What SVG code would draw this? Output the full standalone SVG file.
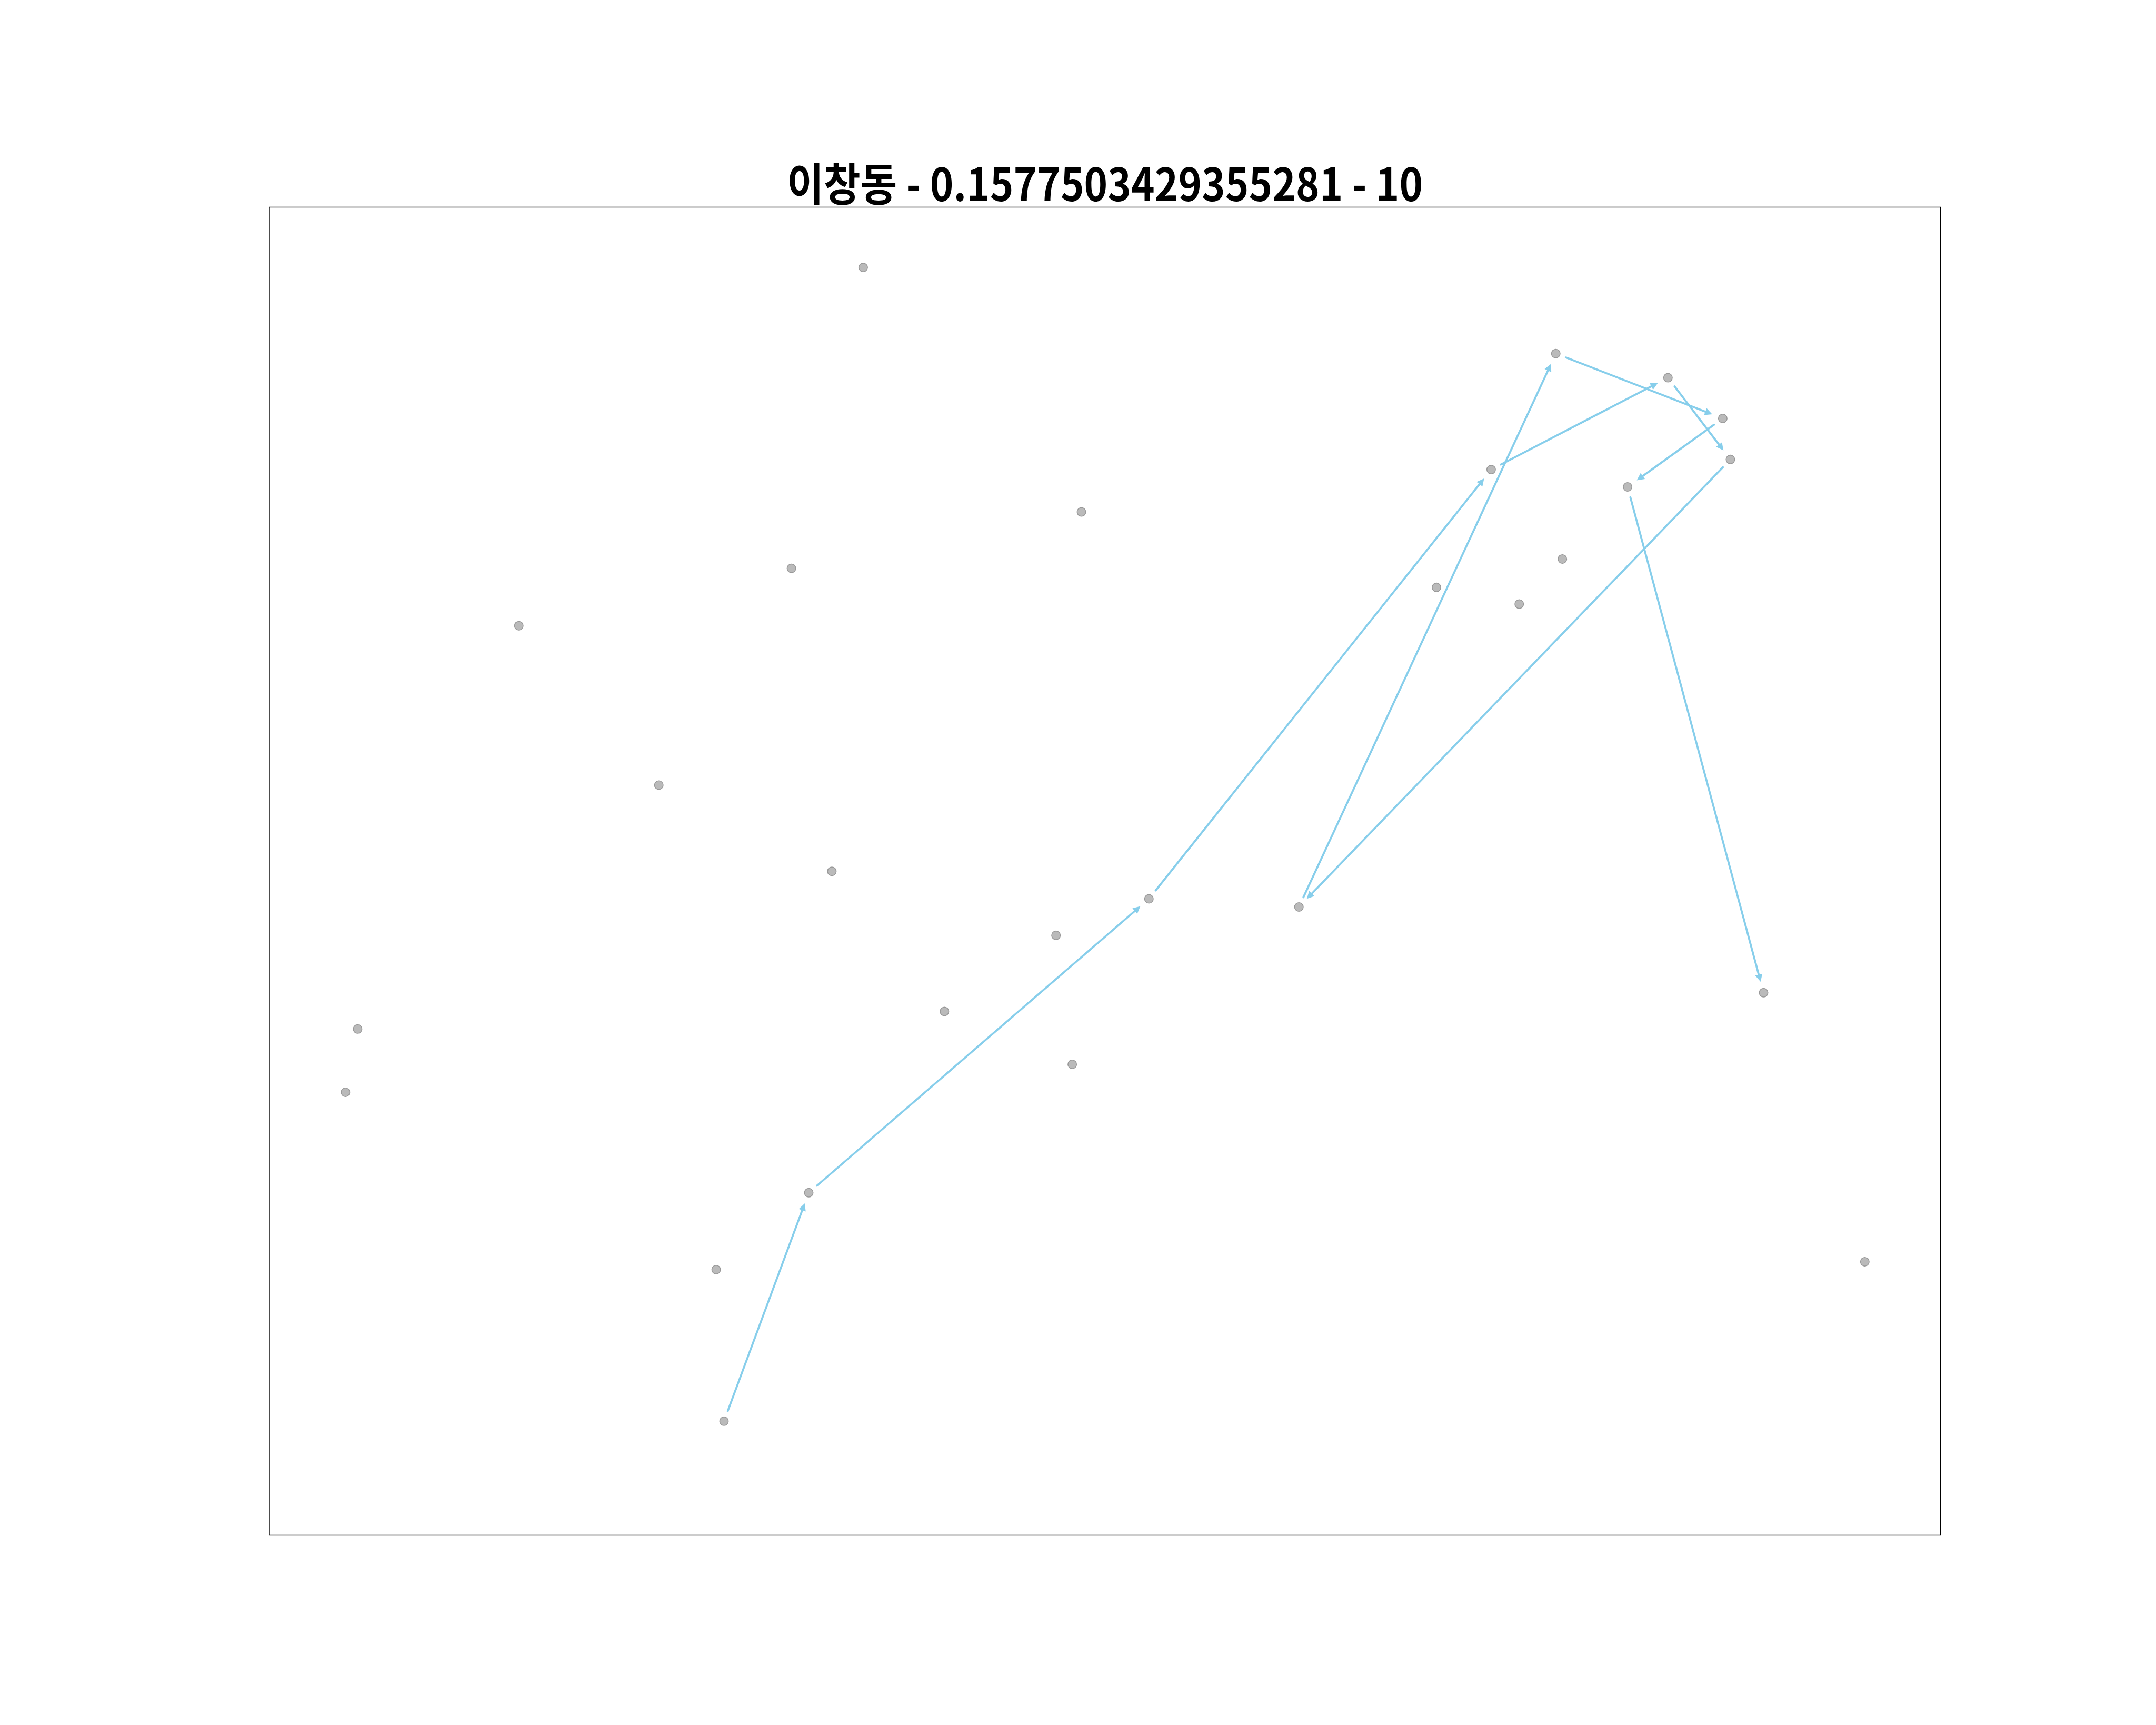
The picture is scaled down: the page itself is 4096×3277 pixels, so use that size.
<svg xmlns="http://www.w3.org/2000/svg" width="4096" height="3277" viewBox="0 0 4096 3277">
<style>
.node{fill:#bababa;stroke:#999999;stroke-width:1.6}
.edge{fill:none;stroke:#87CEEB;stroke-width:3.8;stroke-linecap:round}
.title{font-family:"Noto Sans CJK KR","Liberation Sans",sans-serif;font-weight:700;font-size:86px;fill:#000}
</style>
<defs>
<marker id="ah" markerUnits="userSpaceOnUse" viewBox="0 -8 16 16" refX="0.5" refY="0" markerWidth="16" markerHeight="16" orient="auto" overflow="visible">
<path d="M0,-7 L14,0 L0,7 Z" fill="#87CEEB"/>
</marker>
</defs>
<rect x="0" y="0" width="4096" height="3277" fill="#fff"/>
<rect x="512" y="393.5" width="3174.5" height="2523" fill="none" stroke="#000" stroke-width="1.4"/>
<text class="title" x="2099.2" y="382.3" text-anchor="middle" textLength="1208" lengthAdjust="spacingAndGlyphs">이창동 - 0.1577503429355281 - 10</text>
<g id="connectors">
<line class="edge" marker-end="url(#ah)" x1="1382.6" y1="2680.6" x2="1524.3" y2="2298.6"/>
<line class="edge" marker-end="url(#ah)" x1="1552.0" y1="2252.4" x2="2156.3" y2="1730.4"/>
<line class="edge" marker-end="url(#ah)" x1="2195.6" y1="1691.5" x2="2811.1" y2="919.5"/>
<line class="edge" marker-end="url(#ah)" x1="2851.1" y1="882.6" x2="3137.7" y2="733.7"/>
<line class="edge" marker-end="url(#ah)" x1="3181.3" y1="733.9" x2="3266.1" y2="845.0"/>
<line class="edge" marker-end="url(#ah)" x1="3273.2" y1="887.6" x2="2492.0" y2="1697.8"/>
<line class="edge" marker-end="url(#ah)" x1="2476.3" y1="1704.4" x2="2941.0" y2="703.5"/>
<line class="edge" marker-end="url(#ah)" x1="2974.8" y1="679.1" x2="3240.3" y2="782.2"/>
<line class="edge" marker-end="url(#ah)" x1="3256.3" y1="806.9" x2="3120.5" y2="904.6"/>
<line class="edge" marker-end="url(#ah)" x1="3097.4" y1="944.8" x2="3341.4" y2="1852.0"/>
</g>
<g id="nodes">
<g id="n1"><circle class="node" cx="1639.9" cy="508.1" r="8.2"/></g>
<g id="n2"><circle class="node" cx="2955.7" cy="671.7" r="8.2"/></g>
<g id="n3"><circle class="node" cx="3168.8" cy="717.6" r="8.2"/></g>
<g id="n4"><circle class="node" cx="3272.9" cy="794.9" r="8.2"/></g>
<g id="n5"><circle class="node" cx="3287.4" cy="872.8" r="8.2"/></g>
<g id="n6"><circle class="node" cx="2832.9" cy="892.1" r="8.2"/></g>
<g id="n7"><circle class="node" cx="3092.1" cy="925.0" r="8.2"/></g>
<g id="n8"><circle class="node" cx="2054.5" cy="972.6" r="8.2"/></g>
<g id="n9"><circle class="node" cx="1503.6" cy="1079.7" r="8.2"/></g>
<g id="n10"><circle class="node" cx="2968.2" cy="1061.9" r="8.2"/></g>
<g id="n11"><circle class="node" cx="2729.0" cy="1115.8" r="8.2"/></g>
<g id="n12"><circle class="node" cx="2886.2" cy="1147.6" r="8.2"/></g>
<g id="n13"><circle class="node" cx="985.7" cy="1188.7" r="8.2"/></g>
<g id="n14"><circle class="node" cx="1251.7" cy="1491.5" r="8.2"/></g>
<g id="n15"><circle class="node" cx="1580.4" cy="1655.2" r="8.2"/></g>
<g id="n16"><circle class="node" cx="2182.8" cy="1707.5" r="8.2"/></g>
<g id="n17"><circle class="node" cx="2467.7" cy="1723.0" r="8.2"/></g>
<g id="n18"><circle class="node" cx="2006.2" cy="1776.8" r="8.2"/></g>
<g id="n19"><circle class="node" cx="1794.3" cy="1921.4" r="8.2"/></g>
<g id="n20"><circle class="node" cx="679.4" cy="1954.8" r="8.2"/></g>
<g id="n21"><circle class="node" cx="3350.5" cy="1885.8" r="8.2"/></g>
<g id="n22"><circle class="node" cx="656.3" cy="2075.0" r="8.2"/></g>
<g id="n23"><circle class="node" cx="2037.1" cy="2021.9" r="8.2"/></g>
<g id="n24"><circle class="node" cx="1536.5" cy="2265.8" r="8.2"/></g>
<g id="n25"><circle class="node" cx="1360.6" cy="2411.9" r="8.2"/></g>
<g id="n26"><circle class="node" cx="3542.8" cy="2396.9" r="8.2"/></g>
<g id="n27"><circle class="node" cx="1375.5" cy="2699.8" r="8.2"/></g>
</g>
</svg>
